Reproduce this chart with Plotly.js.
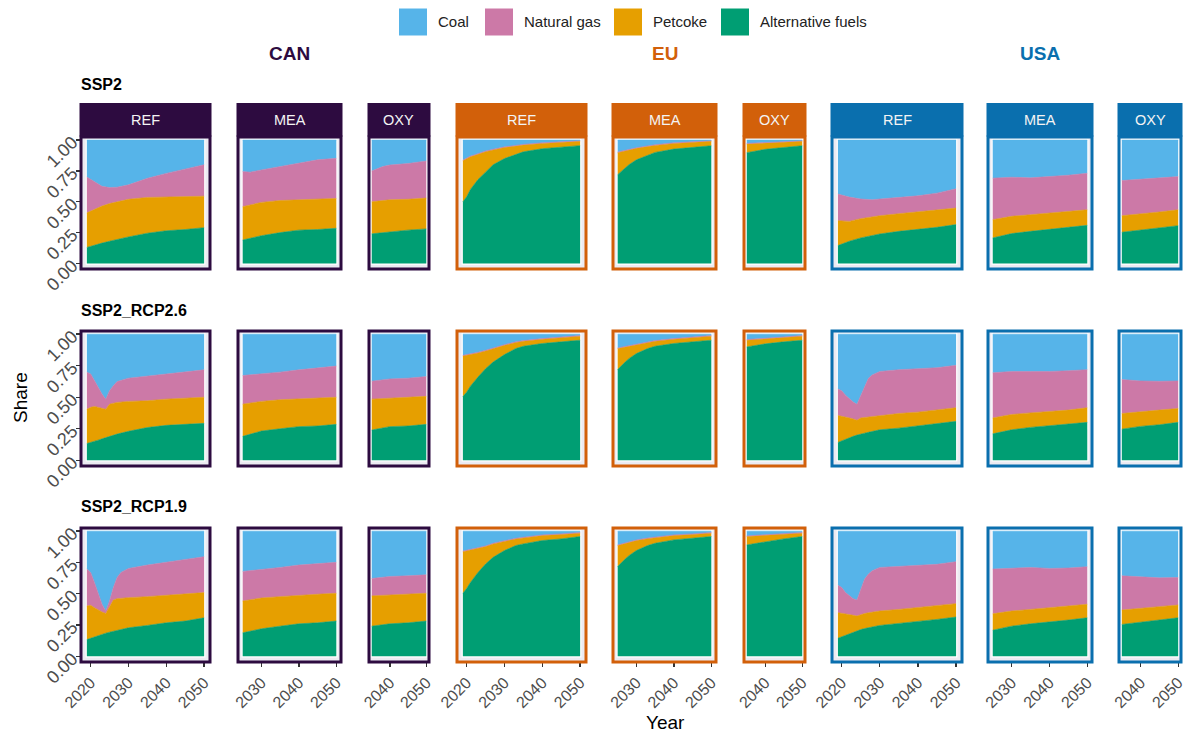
<!DOCTYPE html>
<html><head><meta charset="utf-8">
<script src="https://cdn.plot.ly/plotly-3.0.1.min.js"></script>
<style>html,body{margin:0;padding:0;background:#fff}#chart{width:1190px;height:735px}</style>
</head><body><div id="chart"></div>
<script>
// ---------- categories ----------
const scenarios = ['SSP2', 'SSP2_RCP2.6', 'SSP2_RCP1.9'];
const regions = ['CAN', 'EU', 'USA'];
const techs = ['REF', 'MEA', 'OXY'];
const fuels = ['Coal', 'Natural gas', 'Petcoke', 'Alternative fuels'];
const xTickYears = [2020, 2030, 2040, 2050];
const yTickVals = [0, 0.25, 0.5, 0.75, 1];
const yTickText = ['0.00', '0.25', '0.50', '0.75', '1.00'];

// ---------- data: shares by fuel ----------
// SSP2
const ssp2_CAN_REF_year = [2019, 2021, 2023, 2025, 2027, 2030, 2035, 2040, 2045, 2050];
const ssp2_CAN_REF_alt  = [.13, .15, .165, .18, .195, .215, .245, .265, .275, .29];
const ssp2_CAN_REF_pet  = [.28, .29, .30, .305, .305, .305, .29, .275, .265, .255];
const ssp2_CAN_REF_gas  = [.29, .225, .16, .13, .118, .117, .155, .19, .225, .255];
const ssp2_CAN_REF_coal = [.30, .335, .375, .385, .382, .363, .31, .27, .235, .20];

const ssp2_CAN_MEA_year = [2025, 2027, 2030, 2035, 2040, 2045, 2050];
const ssp2_CAN_MEA_alt  = [.19, .205, .225, .25, .27, .275, .285];
const ssp2_CAN_MEA_pet  = [.27, .27, .27, .26, .245, .245, .242];
const ssp2_CAN_MEA_gas  = [.285, .265, .263, .275, .302, .32, .325];
const ssp2_CAN_MEA_coal = [.255, .26, .242, .215, .183, .16, .148];

const ssp2_CAN_OXY_year = [2035, 2038, 2040, 2045, 2050];
const ssp2_CAN_OXY_alt  = [.24, .25, .258, .27, .28];
const ssp2_CAN_OXY_pet  = [.26, .26, .258, .25, .25];
const ssp2_CAN_OXY_gas  = [.25, .275, .282, .29, .30];
const ssp2_CAN_OXY_coal = [.25, .215, .202, .19, .17];

const ssp2_EU_REF_year = [2019, 2020, 2021, 2022, 2023, 2025, 2027, 2030, 2033, 2035, 2040, 2045, 2050];
const ssp2_EU_REF_alt  = [.50, .54, .60, .64, .68, .74, .80, .85, .885, .905, .93, .945, .955];
const ssp2_EU_REF_pet  = [.333, .31, .265, .235, .207, .166, .12, .09, .067, .055, .043, .035, .035];
const ssp2_EU_REF_gas  = [.005, .005, .005, .005, .005, .005, .005, .005, .005, .005, .005, .005, .005];
const ssp2_EU_REF_coal = [.162, .145, .13, .12, .108, .089, .075, .055, .043, .035, .022, .015, .005];

const ssp2_EU_MEA_year = [2025, 2026, 2027, 2028, 2030, 2033, 2035, 2040, 2045, 2050];
const ssp2_EU_MEA_alt  = [.72, .745, .77, .80, .84, .88, .90, .927, .94, .954];
const ssp2_EU_MEA_pet  = [.178, .16, .142, .12, .093, .068, .057, .046, .04, .036];
const ssp2_EU_MEA_gas  = [.005, .005, .005, .005, .005, .005, .005, .005, .005, .005];
const ssp2_EU_MEA_coal = [.097, .09, .083, .075, .062, .047, .038, .022, .015, .005];

const ssp2_EU_OXY_year = [2035, 2040, 2045, 2050];
const ssp2_EU_OXY_alt  = [.898, .925, .94, .954];
const ssp2_EU_OXY_pet  = [.07, .053, .042, .036];
const ssp2_EU_OXY_gas  = [.005, .005, .005, .005];
const ssp2_EU_OXY_coal = [.027, .017, .013, .005];

const ssp2_USA_REF_year = [2019, 2022, 2025, 2028, 2030, 2035, 2040, 2045, 2050];
const ssp2_USA_REF_alt  = [.145, .18, .207, .228, .239, .26, .274, .293, .315];
const ssp2_USA_REF_pet  = [.202, .161, .156, .149, .148, .143, .143, .137, .134];
const ssp2_USA_REF_gas  = [.215, .197, .159, .139, .135, .132, .131, .14, .156];
const ssp2_USA_REF_coal = [.438, .462, .478, .484, .478, .465, .452, .43, .395];

const ssp2_USA_MEA_year = [2025, 2030, 2035, 2040, 2045, 2050];
const ssp2_USA_MEA_alt  = [.207, .242, .26, .274, .293, .309];
const ssp2_USA_MEA_pet  = [.148, .14, .135, .135, .124, .126];
const ssp2_USA_MEA_gas  = [.336, .317, .299, .295, .298, .296];
const ssp2_USA_MEA_coal = [.309, .301, .306, .296, .285, .269];

const ssp2_USA_OXY_year = [2035, 2040, 2045, 2050];
const ssp2_USA_OXY_alt  = [.253, .269, .288, .306];
const ssp2_USA_OXY_pet  = [.134, .131, .129, .129];
const ssp2_USA_OXY_gas  = [.285, .283, .274, .269];
const ssp2_USA_OXY_coal = [.328, .317, .309, .296];

// SSP2_RCP2.6
const rcp26_CAN_REF_year = [2019, 2020, 2021, 2022, 2023, 2024, 2025, 2026, 2027, 2030, 2035, 2040, 2045, 2050];
const rcp26_CAN_REF_alt  = [.133, .14, .15, .16, .17, .18, .19, .2, .208, .23, .26, .277, .285, .293];
const rcp26_CAN_REF_pet  = [.272, .28, .277, .26, .24, .225, .255, .253, .251, .237, .212, .208, .208, .207];
const rcp26_CAN_REF_gas  = [.294, .265, .205, .159, .115, .08, .107, .139, .165, .184, .195, .20, .211, .217];
const rcp26_CAN_REF_coal = [.301, .315, .368, .421, .475, .515, .448, .408, .376, .349, .333, .315, .296, .283];

const rcp26_CAN_MEA_year = [2025, 2030, 2035, 2040, 2045, 2050];
const rcp26_CAN_MEA_alt  = [.19, .232, .25, .267, .272, .285];
const rcp26_CAN_MEA_pet  = [.255, .235, .23, .218, .218, .215];
const rcp26_CAN_MEA_gas  = [.227, .218, .219, .232, .241, .247];
const rcp26_CAN_MEA_coal = [.328, .315, .301, .283, .269, .253];

const rcp26_CAN_OXY_year = [2035, 2040, 2045, 2050];
const rcp26_CAN_OXY_alt  = [.24, .267, .272, .285];
const rcp26_CAN_OXY_pet  = [.245, .226, .228, .222];
const rcp26_CAN_OXY_gas  = [.142, .152, .151, .157];
const rcp26_CAN_OXY_coal = [.373, .355, .349, .336];

const rcp26_EU_REF_year = [2019, 2020, 2021, 2022, 2023, 2025, 2027, 2030, 2033, 2035, 2040, 2045, 2050];
const rcp26_EU_REF_alt  = [.505, .54, .588, .625, .66, .726, .779, .838, .886, .904, .926, .939, .952];
const rcp26_EU_REF_pet  = [.322, .292, .25, .22, .191, .141, .107, .074, .048, .04, .034, .032, .032];
const rcp26_EU_REF_gas  = [.005, .005, .005, .005, .005, .005, .005, .005, .005, .005, .005, .005, .005];
const rcp26_EU_REF_coal = [.168, .163, .157, .15, .144, .128, .109, .083, .061, .051, .035, .024, .011];

const rcp26_EU_MEA_year = [2025, 2026, 2027, 2028, 2030, 2033, 2035, 2040, 2045, 2050];
const rcp26_EU_MEA_alt  = [.72, .753, .779, .806, .846, .886, .904, .926, .939, .952];
const rcp26_EU_MEA_pet  = [.166, .139, .119, .099, .072, .048, .04, .034, .032, .032];
const rcp26_EU_MEA_gas  = [.005, .005, .005, .005, .005, .005, .005, .005, .005, .005];
const rcp26_EU_MEA_coal = [.109, .103, .097, .09, .077, .061, .051, .035, .024, .011];

const rcp26_EU_OXY_year = [2035, 2040, 2045, 2050];
const rcp26_EU_OXY_alt  = [.899, .923, .939, .952];
const rcp26_EU_OXY_pet  = [.053, .042, .034, .032];
const rcp26_EU_OXY_gas  = [.005, .005, .005, .005];
const rcp26_EU_OXY_coal = [.043, .03, .022, .011];

const rcp26_USA_REF_year = [2019, 2020, 2021, 2022, 2023, 2024, 2025, 2026, 2027, 2028, 2030, 2035, 2040, 2045, 2050];
const rcp26_USA_REF_alt  = [.142, .155, .168, .18, .19, .2, .21, .215, .222, .228, .242, .255, .274, .288, .309];
const rcp26_USA_REF_pet  = [.213, .195, .175, .156, .138, .117, .126, .125, .123, .121, .113, .116, .108, .11, .108];
const rcp26_USA_REF_gas  = [.21, .201, .173, .153, .134, .127, .18, .251, .305, .328, .349, .347, .344, .336, .336];
const rcp26_USA_REF_coal = [.435, .449, .484, .511, .538, .556, .484, .409, .35, .323, .296, .282, .274, .266, .247];

const rcp26_USA_MEA_year = [2025, 2030, 2035, 2040, 2045, 2050];
const rcp26_USA_MEA_alt  = [.21, .242, .261, .274, .288, .301];
const rcp26_USA_MEA_pet  = [.126, .121, .115, .11, .11, .116];
const rcp26_USA_MEA_gas  = [.358, .341, .328, .32, .312, .301];
const rcp26_USA_MEA_coal = [.306, .296, .296, .296, .29, .282];

const rcp26_USA_OXY_year = [2035, 2040, 2045, 2050];
const rcp26_USA_OXY_alt  = [.247, .269, .282, .301];
const rcp26_USA_OXY_pet  = [.124, .113, .116, .11];
const rcp26_USA_OXY_gas  = [.269, .247, .228, .218];
const rcp26_USA_OXY_coal = [.36, .371, .374, .371];

// SSP2_RCP1.9
const rcp19_CAN_REF_year = [2019, 2020, 2021, 2022, 2023, 2024, 2025, 2026, 2027, 2028, 2030, 2035, 2040, 2045, 2050];
const rcp19_CAN_REF_alt  = [.134, .145, .155, .166, .175, .185, .193, .2, .207, .213, .228, .247, .268, .282, .308];
const rcp19_CAN_REF_pet  = [.268, .263, .234, .204, .179, .158, .209, .25, .254, .252, .241, .23, .22, .214, .201];
const rcp19_CAN_REF_gas  = [.295, .262, .201, .126, .062, .019, .04, .10, .169, .205, .233, .252, .262, .276, .287];
const rcp19_CAN_REF_coal = [.303, .33, .41, .504, .584, .638, .558, .45, .37, .33, .298, .271, .25, .228, .204];

const rcp19_CAN_MEA_year = [2025, 2030, 2035, 2040, 2045, 2050];
const rcp19_CAN_MEA_alt  = [.188, .22, .241, .26, .268, .282];
const rcp19_CAN_MEA_pet  = [.254, .246, .236, .228, .228, .222];
const rcp19_CAN_MEA_gas  = [.236, .226, .233, .241, .244, .247];
const rcp19_CAN_MEA_coal = [.322, .308, .29, .271, .26, .249];

const rcp19_CAN_OXY_year = [2035, 2040, 2045, 2050];
const rcp19_CAN_OXY_alt  = [.241, .26, .268, .282];
const rcp19_CAN_OXY_pet  = [.242, .231, .228, .222];
const rcp19_CAN_OXY_gas  = [.139, .147, .147, .147];
const rcp19_CAN_OXY_coal = [.378, .362, .357, .349];

const rcp19_EU_REF_year = [2019, 2020, 2021, 2022, 2023, 2025, 2027, 2030, 2033, 2035, 2040, 2045, 2050];
const rcp19_EU_REF_alt  = [.504, .542, .59, .63, .67, .737, .791, .845, .885, .898, .925, .938, .957];
const rcp19_EU_REF_pet  = [.332, .301, .26, .224, .188, .14, .107, .075, .053, .048, .04, .035, .027];
const rcp19_EU_REF_gas  = [.005, .005, .005, .005, .005, .005, .005, .005, .005, .005, .005, .005, .005];
const rcp19_EU_REF_coal = [.159, .152, .145, .141, .137, .118, .097, .075, .057, .049, .03, .022, .011];

const rcp19_EU_MEA_year = [2025, 2026, 2027, 2028, 2030, 2033, 2035, 2040, 2045, 2050];
const rcp19_EU_MEA_alt  = [.718, .75, .777, .804, .845, .885, .903, .93, .944, .957];
const rcp19_EU_MEA_pet  = [.167, .143, .124, .105, .08, .055, .043, .035, .029, .027];
const rcp19_EU_MEA_gas  = [.005, .005, .005, .005, .005, .005, .005, .005, .005, .005];
const rcp19_EU_MEA_coal = [.11, .102, .094, .086, .07, .055, .049, .03, .022, .011];

const rcp19_EU_OXY_year = [2035, 2040, 2045, 2050];
const rcp19_EU_OXY_alt  = [.89, .917, .938, .957];
const rcp19_EU_OXY_pet  = [.067, .048, .035, .027];
const rcp19_EU_OXY_gas  = [.005, .005, .005, .005];
const rcp19_EU_OXY_coal = [.038, .03, .022, .011];

const rcp19_USA_REF_year = [2019, 2020, 2021, 2022, 2023, 2024, 2025, 2026, 2027, 2028, 2030, 2035, 2040, 2045, 2050];
const rcp19_USA_REF_alt  = [.145, .157, .17, .182, .193, .204, .214, .222, .229, .236, .247, .263, .276, .295, .314];
const rcp19_USA_REF_pet  = [.204, .188, .17, .153, .135, .118, .121, .12, .119, .118, .115, .112, .113, .107, .107];
const rcp19_USA_REF_gas  = [.219, .205, .169, .148, .133, .128, .201, .275, .309, .33, .348, .343, .335, .333, .335];
const rcp19_USA_REF_coal = [.432, .45, .491, .517, .539, .55, .464, .383, .343, .316, .29, .282, .276, .265, .244];

const rcp19_USA_MEA_year = [2025, 2030, 2035, 2040, 2045, 2050];
const rcp19_USA_MEA_alt  = [.209, .241, .26, .273, .29, .308];
const rcp19_USA_MEA_pet  = [.131, .121, .115, .116, .107, .108];
const rcp19_USA_MEA_gas  = [.357, .343, .335, .313, .308, .30];
const rcp19_USA_MEA_coal = [.303, .295, .29, .298, .295, .284];

const rcp19_USA_OXY_year = [2035, 2040, 2045, 2050];
const rcp19_USA_OXY_alt  = [.255, .273, .29, .308];
const rcp19_USA_OXY_pet  = [.115, .108, .107, .102];
const rcp19_USA_OXY_gas  = [.273, .254, .23, .22];
const rcp19_USA_OXY_coal = [.357, .365, .373, .37];

// lookup table built from the arrays above: [year, alt, pet, gas, coal]
const PANELS = {
  'SSP2|CAN|REF': [ssp2_CAN_REF_year, ssp2_CAN_REF_alt, ssp2_CAN_REF_pet, ssp2_CAN_REF_gas, ssp2_CAN_REF_coal],
  'SSP2|CAN|MEA': [ssp2_CAN_MEA_year, ssp2_CAN_MEA_alt, ssp2_CAN_MEA_pet, ssp2_CAN_MEA_gas, ssp2_CAN_MEA_coal],
  'SSP2|CAN|OXY': [ssp2_CAN_OXY_year, ssp2_CAN_OXY_alt, ssp2_CAN_OXY_pet, ssp2_CAN_OXY_gas, ssp2_CAN_OXY_coal],
  'SSP2|EU|REF': [ssp2_EU_REF_year, ssp2_EU_REF_alt, ssp2_EU_REF_pet, ssp2_EU_REF_gas, ssp2_EU_REF_coal],
  'SSP2|EU|MEA': [ssp2_EU_MEA_year, ssp2_EU_MEA_alt, ssp2_EU_MEA_pet, ssp2_EU_MEA_gas, ssp2_EU_MEA_coal],
  'SSP2|EU|OXY': [ssp2_EU_OXY_year, ssp2_EU_OXY_alt, ssp2_EU_OXY_pet, ssp2_EU_OXY_gas, ssp2_EU_OXY_coal],
  'SSP2|USA|REF': [ssp2_USA_REF_year, ssp2_USA_REF_alt, ssp2_USA_REF_pet, ssp2_USA_REF_gas, ssp2_USA_REF_coal],
  'SSP2|USA|MEA': [ssp2_USA_MEA_year, ssp2_USA_MEA_alt, ssp2_USA_MEA_pet, ssp2_USA_MEA_gas, ssp2_USA_MEA_coal],
  'SSP2|USA|OXY': [ssp2_USA_OXY_year, ssp2_USA_OXY_alt, ssp2_USA_OXY_pet, ssp2_USA_OXY_gas, ssp2_USA_OXY_coal],
  'SSP2_RCP2.6|CAN|REF': [rcp26_CAN_REF_year, rcp26_CAN_REF_alt, rcp26_CAN_REF_pet, rcp26_CAN_REF_gas, rcp26_CAN_REF_coal],
  'SSP2_RCP2.6|CAN|MEA': [rcp26_CAN_MEA_year, rcp26_CAN_MEA_alt, rcp26_CAN_MEA_pet, rcp26_CAN_MEA_gas, rcp26_CAN_MEA_coal],
  'SSP2_RCP2.6|CAN|OXY': [rcp26_CAN_OXY_year, rcp26_CAN_OXY_alt, rcp26_CAN_OXY_pet, rcp26_CAN_OXY_gas, rcp26_CAN_OXY_coal],
  'SSP2_RCP2.6|EU|REF': [rcp26_EU_REF_year, rcp26_EU_REF_alt, rcp26_EU_REF_pet, rcp26_EU_REF_gas, rcp26_EU_REF_coal],
  'SSP2_RCP2.6|EU|MEA': [rcp26_EU_MEA_year, rcp26_EU_MEA_alt, rcp26_EU_MEA_pet, rcp26_EU_MEA_gas, rcp26_EU_MEA_coal],
  'SSP2_RCP2.6|EU|OXY': [rcp26_EU_OXY_year, rcp26_EU_OXY_alt, rcp26_EU_OXY_pet, rcp26_EU_OXY_gas, rcp26_EU_OXY_coal],
  'SSP2_RCP2.6|USA|REF': [rcp26_USA_REF_year, rcp26_USA_REF_alt, rcp26_USA_REF_pet, rcp26_USA_REF_gas, rcp26_USA_REF_coal],
  'SSP2_RCP2.6|USA|MEA': [rcp26_USA_MEA_year, rcp26_USA_MEA_alt, rcp26_USA_MEA_pet, rcp26_USA_MEA_gas, rcp26_USA_MEA_coal],
  'SSP2_RCP2.6|USA|OXY': [rcp26_USA_OXY_year, rcp26_USA_OXY_alt, rcp26_USA_OXY_pet, rcp26_USA_OXY_gas, rcp26_USA_OXY_coal],
  'SSP2_RCP1.9|CAN|REF': [rcp19_CAN_REF_year, rcp19_CAN_REF_alt, rcp19_CAN_REF_pet, rcp19_CAN_REF_gas, rcp19_CAN_REF_coal],
  'SSP2_RCP1.9|CAN|MEA': [rcp19_CAN_MEA_year, rcp19_CAN_MEA_alt, rcp19_CAN_MEA_pet, rcp19_CAN_MEA_gas, rcp19_CAN_MEA_coal],
  'SSP2_RCP1.9|CAN|OXY': [rcp19_CAN_OXY_year, rcp19_CAN_OXY_alt, rcp19_CAN_OXY_pet, rcp19_CAN_OXY_gas, rcp19_CAN_OXY_coal],
  'SSP2_RCP1.9|EU|REF': [rcp19_EU_REF_year, rcp19_EU_REF_alt, rcp19_EU_REF_pet, rcp19_EU_REF_gas, rcp19_EU_REF_coal],
  'SSP2_RCP1.9|EU|MEA': [rcp19_EU_MEA_year, rcp19_EU_MEA_alt, rcp19_EU_MEA_pet, rcp19_EU_MEA_gas, rcp19_EU_MEA_coal],
  'SSP2_RCP1.9|EU|OXY': [rcp19_EU_OXY_year, rcp19_EU_OXY_alt, rcp19_EU_OXY_pet, rcp19_EU_OXY_gas, rcp19_EU_OXY_coal],
  'SSP2_RCP1.9|USA|REF': [rcp19_USA_REF_year, rcp19_USA_REF_alt, rcp19_USA_REF_pet, rcp19_USA_REF_gas, rcp19_USA_REF_coal],
  'SSP2_RCP1.9|USA|MEA': [rcp19_USA_MEA_year, rcp19_USA_MEA_alt, rcp19_USA_MEA_pet, rcp19_USA_MEA_gas, rcp19_USA_MEA_coal],
  'SSP2_RCP1.9|USA|OXY': [rcp19_USA_OXY_year, rcp19_USA_OXY_alt, rcp19_USA_OXY_pet, rcp19_USA_OXY_gas, rcp19_USA_OXY_coal]
};

// ---------- styles & layout geometry (pixels) ----------
const FONT = 'Liberation Sans, Arial, sans-serif';
const fuelColors = {'Coal': '#56B4E9', 'Natural gas': '#CC79A7', 'Petcoke': '#E69F00', 'Alternative fuels': '#009E73'};
const regionColors = {'CAN': '#2D0B40', 'EU': '#D2600A', 'USA': '#0A6FAE'};
const W = 1190, H = 735;
const colBoxes = [[80, 211], [237, 342], [368, 430], [456, 587], [612, 717], [743, 806], [831, 963], [987, 1093], [1118, 1182]];
const rowBoxes = [[136, 270], [330, 467], [527, 663]];
const stripTop = 103;
const headerPos = {'CAN': 289, 'EU': 665, 'USA': 1040};
const scenTitleY = [84, 310, 506];
const legendKeyX = [399, 485, 614, 721];
const px = p => p / W;
const py = p => 1 - p / H;

const traces = [];
const layout = {
  width: W, height: H, margin: {l: 0, r: 0, t: 0, b: 0},
  paper_bgcolor: '#ffffff', plot_bgcolor: '#ECEBF2',
  showlegend: false, hovermode: false,
  font: {family: FONT, color: '#222'},
  shapes: [], annotations: []
};

scenarios.forEach((scen, r) => {
  regions.forEach((reg, gi) => {
    techs.forEach((tech, ti) => {
      const c = gi * 3 + ti;
      const k = r * 9 + c + 1;
      const xa = k === 1 ? 'x' : 'x' + k;
      const ya = k === 1 ? 'y' : 'y' + k;
      const d = PANELS[scen + '|' + reg + '|' + tech];
      const years = d[0];
      const series = [['Alternative fuels', d[1]], ['Petcoke', d[2]], ['Natural gas', d[3]], ['Coal', d[4]]];
      series.forEach(([name, vals]) => {
        traces.push({
          type: 'scatter', mode: 'lines', x: years, y: vals, name: name,
          stackgroup: 'g' + k, xaxis: xa, yaxis: ya,
          line: {width: 0.6, color: fuelColors[name]}, fillcolor: fuelColors[name],
          showlegend: false
        });
      });
      const y0 = years[0], y1 = years[years.length - 1], span = y1 - y0;
      const box = colBoxes[c], rb = rowBoxes[r];
      layout[k === 1 ? 'xaxis' : 'xaxis' + k] = {
        domain: [px(box[0] + 1), px(box[1] - 1)], anchor: ya,
        range: [y0 - 0.05 * span, y1 + 0.05 * span],
        showgrid: false, zeroline: false, showline: false,
        tickvals: xTickYears, ticks: r === 2 ? 'outside' : '', ticklen: 4, tickwidth: 1.3, tickcolor: '#333',
        showticklabels: r === 2, tickangle: -45,
        tickfont: {family: FONT, size: 16, color: '#4D4D4D'}
      };
      layout[k === 1 ? 'yaxis' : 'yaxis' + k] = {
        domain: [py(rb[1] - 1), py(rb[0] + 1)], anchor: xa,
        range: [-0.045, 1.025],
        showgrid: false, zeroline: false, showline: false,
        tickvals: yTickVals, ticktext: yTickText,
        ticks: c === 0 ? 'outside' : '', ticklen: 4, tickwidth: 1.3, tickcolor: '#333',
        showticklabels: c === 0, tickangle: -45,
        tickfont: {family: FONT, size: 18, color: '#4D4D4D'}
      };
      // white frame around data extent
      layout.shapes.push({type: 'rect', xref: xa, yref: ya, x0: y0, x1: y1, y0: 0, y1: 1,
        line: {color: '#ffffff', width: 2.5}, fillcolor: 'rgba(0,0,0,0)', layer: 'below'});
      // coloured panel border
      layout.shapes.push({type: 'rect', xref: xa + ' domain', yref: ya + ' domain', x0: 0, x1: 1, y0: 0, y1: 1,
        line: {color: regionColors[reg], width: 3}, fillcolor: 'rgba(0,0,0,0)', layer: 'above'});
      if (r === 0) {
        layout.shapes.push({type: 'rect', xref: 'paper', yref: 'paper',
          x0: px(box[0] - 0.5), x1: px(box[1] + 0.5), y0: py(rb[0] + 0.5), y1: py(stripTop),
          line: {width: 0}, fillcolor: regionColors[reg], layer: 'above'});
        layout.annotations.push({text: tech, xref: 'paper', yref: 'paper',
          x: px((box[0] + box[1]) / 2), y: py((stripTop + rb[0]) / 2), xanchor: 'center', yanchor: 'middle',
          showarrow: false, font: {family: FONT, size: 14.5, color: '#F4F4F4'}});
      }
    });
  });
  layout.annotations.push({text: '<b>' + scen + '</b>', xref: 'paper', yref: 'paper',
    x: px(79), y: py(scenTitleY[r]), xanchor: 'left', yanchor: 'middle', showarrow: false,
    font: {family: FONT, size: 16, color: '#000'}});
});

regions.forEach(reg => {
  layout.annotations.push({text: '<b>' + reg + '</b>', xref: 'paper', yref: 'paper',
    x: px(headerPos[reg]), y: py(53), xanchor: 'center', yanchor: 'middle', showarrow: false,
    font: {family: FONT, size: 19, color: regionColors[reg]}});
});

// legend
fuels.forEach((f, i) => {
  const kx = legendKeyX[i];
  layout.shapes.push({type: 'rect', xref: 'paper', yref: 'paper', x0: px(kx), x1: px(kx + 28), y0: py(35.5), y1: py(8.5),
    line: {width: 0}, fillcolor: fuelColors[f]});
  layout.annotations.push({text: f, xref: 'paper', yref: 'paper', x: px(kx + 37), y: py(22),
    xanchor: 'left', yanchor: 'middle', showarrow: false, font: {family: FONT, size: 15, color: '#222'}});
});

// axis titles
layout.annotations.push({text: 'Share', xref: 'paper', yref: 'paper', x: px(20), y: py(398),
  xanchor: 'center', yanchor: 'middle', textangle: -90, showarrow: false, font: {family: FONT, size: 19, color: '#000'}});
layout.annotations.push({text: 'Year', xref: 'paper', yref: 'paper', x: px(665), y: py(722),
  xanchor: 'center', yanchor: 'middle', showarrow: false, font: {family: FONT, size: 19, color: '#000'}});

Plotly.newPlot('chart', traces, layout, {displayModeBar: false, staticPlot: true});
</script>
</body></html>
